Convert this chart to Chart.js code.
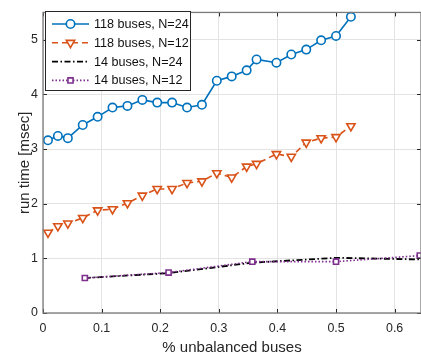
<!DOCTYPE html>
<html>
<head>
<meta charset="utf-8">
<script src="https://cdn.jsdelivr.net/npm/chart.js@4"></script>
<style>
  body { margin: 0; background: #fff; }
  canvas { display: block; }
</style>
</head>
<body>
<canvas id="chart" width="421" height="358"></canvas>
<script>
// x = fraction of unbalanced buses
const xs118 = [0.0085, 0.0254, 0.0424, 0.0678, 0.0932, 0.1186, 0.1441, 0.1695, 0.1949, 0.2203, 0.2458,
  0.2712, 0.2966, 0.3220, 0.3475, 0.3644, 0.3983, 0.4237, 0.4492, 0.4746, 0.5000, 0.5254];
const runtime118N24 = [3.16, 3.24, 3.20, 3.44, 3.59, 3.76, 3.79, 3.90, 3.85, 3.85, 3.76,
  3.81, 4.25, 4.33, 4.44, 4.64, 4.58, 4.73, 4.82, 4.99, 5.07, 5.42];
const runtime118N12 = [1.47, 1.59, 1.64, 1.74, 1.88, 1.90, 2.01, 2.15, 2.27, 2.27, 2.38,
  2.41, 2.56, 2.48, 2.68, 2.73, 2.91, 2.86, 3.12, 3.20, 3.22, 3.42];
const xs14 = [0.0714, 0.2143, 0.3571, 0.5000, 0.6429];
const runtime14N24 = [0.64, 0.73, 0.92, 1.01, 0.98];
const runtime14N12 = [0.64, 0.74, 0.94, 0.94, 1.05];
const seriesLabels = ['118 buses, N=24', '118 buses, N=12', '14 buses, N=24', '14 buses, N=12'];

const FONT = '"Liberation Sans", Arial, sans-serif';
const toPts = (xs, ys) => xs.map((x, i) => ({ x: x, y: ys[i] }));

// legend drawn inside the plot, top-left, matlab style
const boxLegend = {
  id: 'boxLegend',
  afterDraw(chart) {
    const ctx = chart.ctx;
    const x0 = 45.5, y0 = 11.5, w = 145, h = 79;
    ctx.save();
    ctx.fillStyle = '#fff';
    ctx.fillRect(x0, y0, w, h);
    ctx.strokeStyle = '#262626';
    ctx.lineWidth = 1;
    ctx.strokeRect(x0, y0, w, h);
    chart.data.datasets.forEach((ds, i) => {
      const y = 24 + i * 18.8;
      ctx.strokeStyle = ds.borderColor;
      ctx.lineWidth = ds.borderWidth;
      ctx.setLineDash(ds.borderDash || []);
      ctx.beginPath();
      ctx.moveTo(52, y);
      ctx.lineTo(89, y);
      ctx.stroke();
      ctx.setLineDash([]);
      if (ds.pointRadius > 0) {
        ctx.fillStyle = ds.pointBackgroundColor;
        ctx.strokeStyle = ds.pointBorderColor;
        ctx.lineWidth = ds.pointBorderWidth;
        Chart.helpers.drawPoint(ctx, {
          pointStyle: ds.pointStyle, radius: ds.pointRadius,
          rotation: ds.pointRotation || 0, borderWidth: ds.pointBorderWidth
        }, 70.5, y);
      }
      ctx.fillStyle = '#111';
      ctx.font = '12.6px ' + FONT;
      ctx.textBaseline = 'middle';
      ctx.fillText(ds.label, 94, y + 0.5);
    });
    ctx.restore();
  }
};

// box around the axes plus inward tick marks
const axesBox = {
  id: 'axesBox',
  afterDatasetsDraw(chart) {
    const { ctx, chartArea: a, scales } = chart;
    ctx.save();
    ctx.strokeStyle = '#262626';
    ctx.lineWidth = 1;
    ctx.beginPath();
    scales.x.ticks.forEach(t => {
      const px = Math.round(scales.x.getPixelForValue(t.value)) + 0.5;
      ctx.moveTo(px, a.top); ctx.lineTo(px, a.top + 4);
      ctx.moveTo(px, a.bottom); ctx.lineTo(px, a.bottom - 4);
    });
    scales.y.ticks.forEach(t => {
      const py = Math.round(scales.y.getPixelForValue(t.value)) + 0.5;
      ctx.moveTo(a.left, py); ctx.lineTo(a.left + 4, py);
      ctx.moveTo(a.right, py); ctx.lineTo(a.right - 4, py);
    });
    ctx.stroke();
    ctx.strokeStyle = '#7a7a7a';
    ctx.lineWidth = 1.3;
    ctx.strokeRect(a.left, a.top, a.right - a.left, a.bottom - a.top);
    ctx.restore();
  }
};

new Chart(document.getElementById('chart'), {
  type: 'line',
  data: {
    datasets: [
      {
        label: seriesLabels[0],
        data: toPts(xs118, runtime118N24),
        order: 3,
        borderColor: '#0072BD', borderWidth: 1.6,
        pointStyle: 'circle', pointRadius: 4.2, pointBorderWidth: 1.6,
        pointBorderColor: '#0072BD', pointBackgroundColor: '#fff'
      },
      {
        label: seriesLabels[1],
        data: toPts(xs118, runtime118N12),
        order: 2,
        borderColor: '#D95319', borderWidth: 1.6, borderDash: [6, 4],
        pointStyle: 'triangle', pointRotation: 180, pointRadius: 4.8, pointBorderWidth: 1.6,
        pointBorderColor: '#D95319', pointBackgroundColor: '#fff'
      },
      {
        label: seriesLabels[2],
        data: toPts(xs14, runtime14N24),
        order: 1,
        borderColor: '#000', borderWidth: 1.8, borderDash: [6, 2.5, 1.5, 2.5],
        pointRadius: 0, pointBorderWidth: 0,
        pointBorderColor: '#000', pointBackgroundColor: '#000'
      },
      {
        label: seriesLabels[3],
        data: toPts(xs14, runtime14N12),
        order: 0,
        borderColor: '#7E2F8E', borderWidth: 1.6, borderDash: [1.5, 2],
        pointStyle: 'rect', pointRadius: 3.6, pointBorderWidth: 1.6,
        pointBorderColor: '#7E2F8E', pointBackgroundColor: '#fff'
      }
    ]
  },
  options: {
    responsive: false,
    animation: false,
    clip: false,
    layout: { autoPadding: false, padding: { left: 0, right: 0, top: 10, bottom: 0 } },
    plugins: {
      legend: { display: false },
      tooltip: { enabled: false }
    },
    scales: {
      x: {
        type: 'linear',
        min: 0,
        max: 0.645,
        afterFit: s => { s.height = 45; },
        ticks: {
          stepSize: 0.1, includeBounds: false, autoSkip: false, maxRotation: 0,
          padding: 8, color: '#262626', font: { family: FONT, size: 12.4 }
        },
        grid: { color: '#e3e3e3', lineWidth: 1, drawTicks: false },
        border: { display: false },
        title: {
          display: true, text: '% unbalanced buses', color: '#262626',
          font: { family: FONT, size: 15 }, padding: { top: 0, bottom: 1 }
        }
      },
      y: {
        type: 'linear',
        min: 0,
        max: 5.5,
        afterFit: s => { s.width = 43; },
        ticks: {
          stepSize: 1, includeBounds: false,
          padding: 5, color: '#262626', font: { family: FONT, size: 12.4 }
        },
        grid: { color: '#e3e3e3', lineWidth: 1, drawTicks: false },
        border: { display: false },
        title: {
          display: true, text: 'run time [msec]', color: '#262626',
          font: { family: FONT, size: 15 }, padding: { top: 16, bottom: 0 }
        }
      }
    }
  },
  plugins: [axesBox, boxLegend]
});
</script>
</body>
</html>
